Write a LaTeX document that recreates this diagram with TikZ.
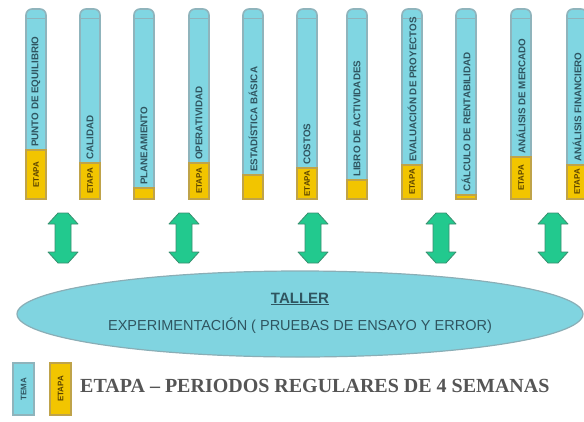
\documentclass[tikz,border=0pt]{standalone}
\usepackage{fontspec}
\setmainfont{Liberation Serif}
\setsansfont{Liberation Sans}
\usetikzlibrary{shapes.geometric}
\definecolor{tubecyan}{HTML}{80D6E2}
\definecolor{tubeedge}{HTML}{8FB4BC}
\definecolor{tubeyel}{HTML}{F2C500}
\definecolor{yeledge}{HTML}{BFA34A}
\definecolor{tubetext}{HTML}{2F5560}
\definecolor{yeltext}{HTML}{5A4300}
\definecolor{arrgreen}{HTML}{22C98E}
\definecolor{arredge}{HTML}{3A8F70}
\definecolor{ellfill}{HTML}{80D4E0}
\definecolor{elledge}{HTML}{8AAEB6}
\definecolor{legtext}{HTML}{555555}
\tikzset{
  tubebody/.style={fill=tubecyan, draw=tubeedge, line width=1.6pt},
  tubefoot/.style={fill=tubeyel, draw=yeledge, line width=1.6pt},
  tubelbl/.style={rotate=90, anchor=west, inner sep=0pt, text=tubetext,
    font=\sffamily\bfseries\fontsize{9.8}{9.8}\selectfont},
  yellbl/.style={rotate=90, inner sep=0pt, text=yeltext,
    font=\sffamily\bfseries\fontsize{8}{8}\selectfont},
  blockarrow/.style={fill=arrgreen, draw=arredge, line width=0.8pt, line join=round},
  workshop/.style={ellipse, fill=ellfill, draw=elledge, line width=1.2pt,
    minimum width=566pt, minimum height=86pt, inner sep=0pt},
  ellbl/.style={inner sep=0pt, text=tubetext, font=\sffamily\fontsize{14.5}{14.5}\selectfont},
  legbox/.style={line width=1.6pt},
  legtxt/.style={anchor=west, inner sep=0pt, text=legtext,
    font=\bfseries\fontsize{20}{20}\selectfont}
}
\begin{document}
\begin{tikzpicture}[x=1pt,y=-1pt]
\useasboundingbox (0,0) rectangle (584,421);
\clip (0,0) rectangle (584,421);
% tubes
\foreach \i/\x/\yt/\txt/\ylab in {
  1/36/150/PUNTO DE EQUILIBRIO/ETAPA,
  2/90/163/CALIDAD/ETAPA,
  3/144/188/PLANEAMIENTO/{},
  4/199/163/OPERATIVIDAD/ETAPA,
  5/253/175/ESTADÍSTICA BÁSICA/{},
  6/307/168/COSTOS/ETAPA,
  7/357/180/LIBRO DE ACTIVIDADES/{},
  8/412/165/EVALUACIÓN DE PROYECTOS/ETAPA,
  9/466/195/CÁLCULO DE RENTABILIDAD/{},
  10/521/157/ANÁLISIS DE MERCADO/ETAPA,
  11/577/165/ANÁLISIS FINANCIERO/ETAPA}{
  \path[tubebody, rounded corners=6pt] (\x-10,\yt+4) -- (\x-10,9) -- (\x+10,9) -- (\x+10,\yt+4);
  \path[tubebody] (\x-10,\yt+4) rectangle (\x+10,\yt);
  \path[tubefoot] (\x-10,\yt) rectangle (\x+10,199);
  \draw[tubeedge, line width=0.8pt] (\x-9,18) -- (\x+9,18);
  \node[tubelbl] (t\i) at (\x,\yt-3) {\txt};
  \node[yellbl] (e\i) at (\x,{(\yt+199)/2}) {\ylab};
}
% double block arrows
\foreach \i/\x in {1/63,2/184,3/313,4/441,5/553}{
  \coordinate (a\i) at (\x,238);
  \path[blockarrow] (\x-5,213) -- (\x+5,213) -- (\x+15,224) -- (\x+8,224) -- (\x+8,252)
    -- (\x+15,252) -- (\x+5,263) -- (\x-5,263) -- (\x-15,252) -- (\x-8,252)
    -- (\x-8,224) -- (\x-15,224) -- cycle;
}
% workshop ellipse
\node[workshop] (taller) at (300,314) {};
\node[ellbl, font=\sffamily\bfseries\fontsize{15}{15}\selectfont] (tl) at (300,299) {\underline{TALLER}};
\node[ellbl] (exp) at (300,326) {EXPERIMENTACIÓN ( PRUEBAS DE ENSAYO Y ERROR)};
% legend
\path[legbox, fill=tubecyan, draw=tubeedge] (13,363) rectangle (34,415);
\path[legbox, fill=tubeyel, draw=yeledge] (50,363) rectangle (71,415);
\node[yellbl, text=tubetext] (lg1) at (23.5,389) {TEMA};
\node[yellbl] (lg2) at (60.5,389) {ETAPA};
\node[legtxt] (leg) at (80,386) {ETAPA – PERIODOS REGULARES DE 4 SEMANAS};
\end{tikzpicture}
\end{document}
